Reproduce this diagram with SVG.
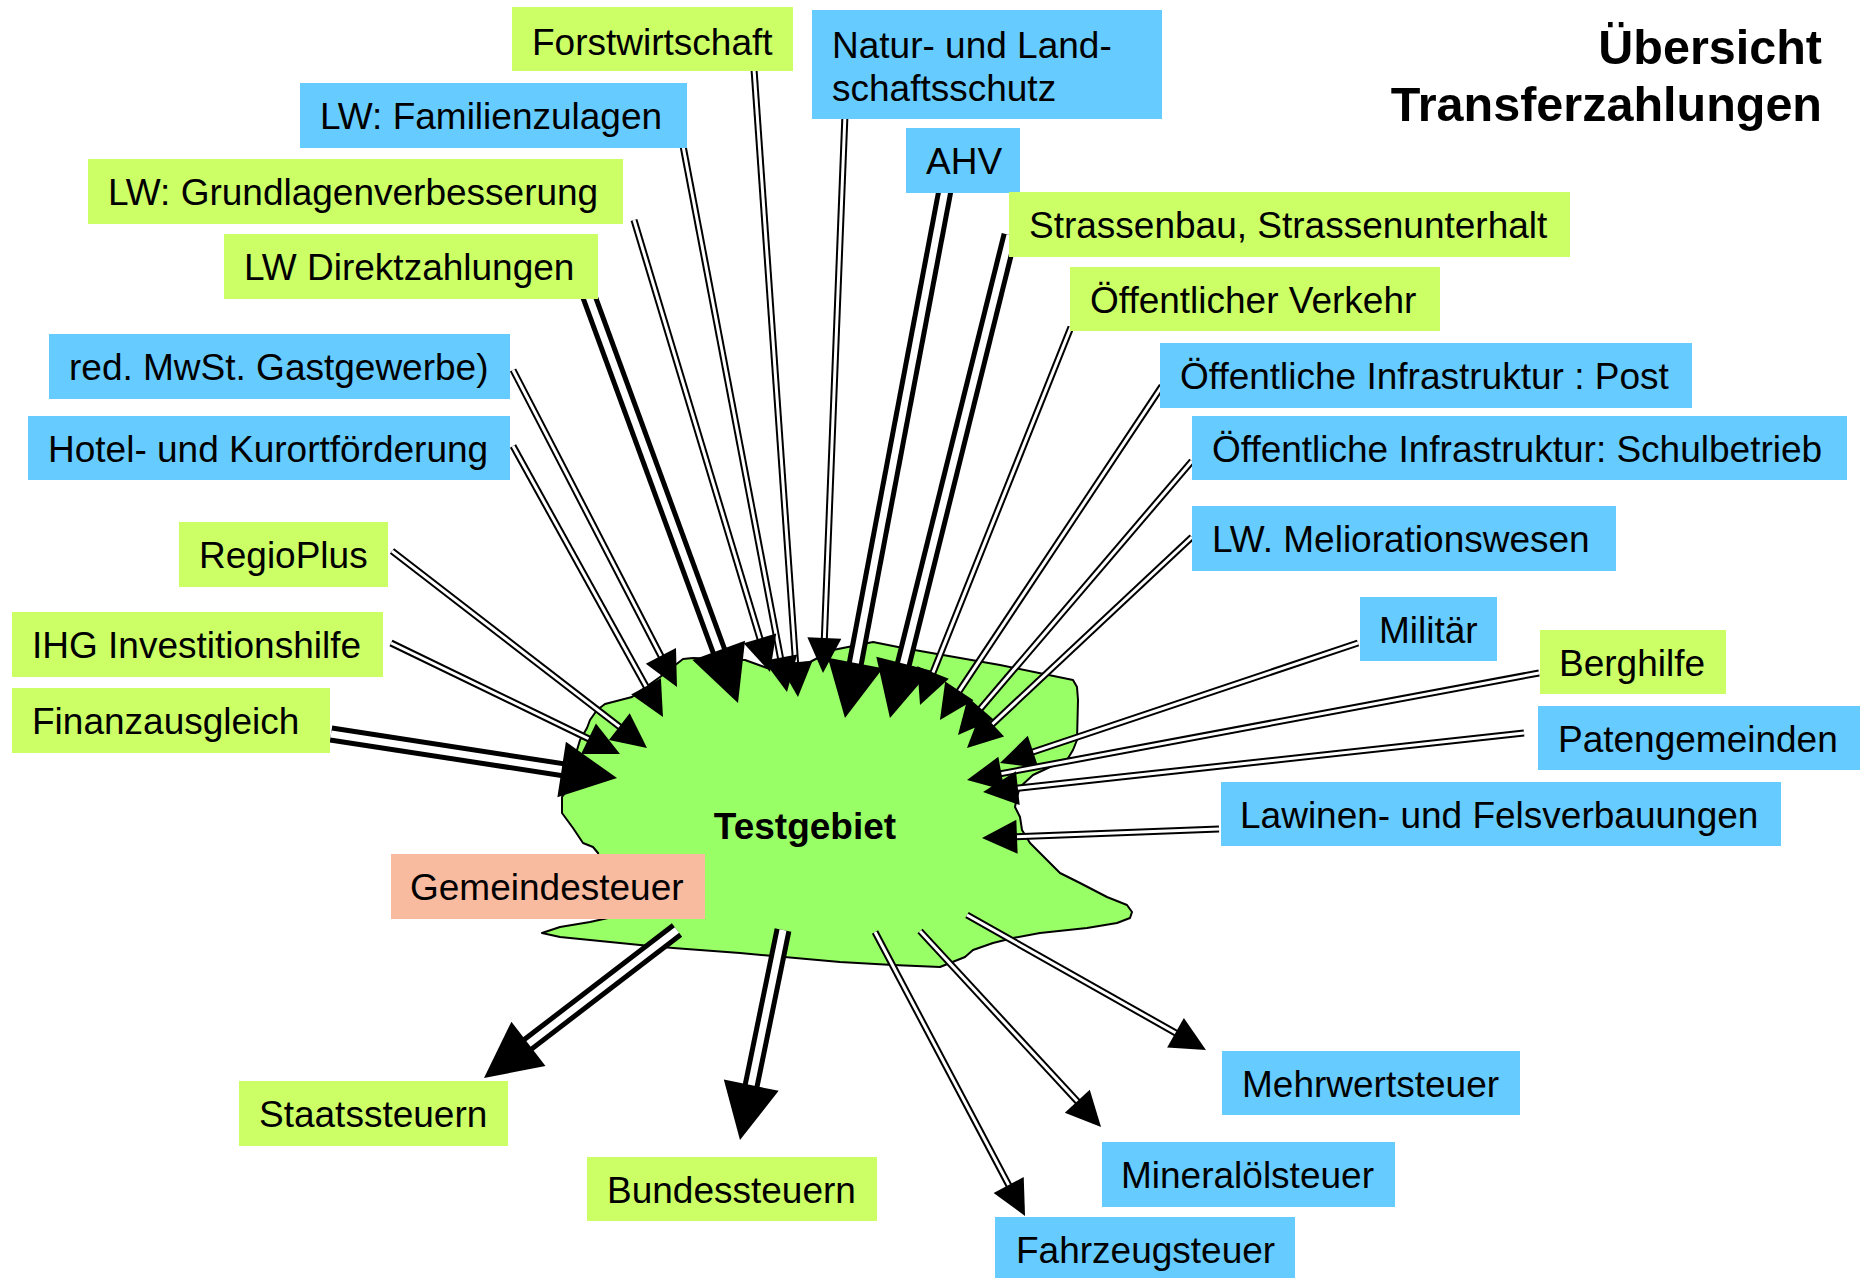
<svg xmlns="http://www.w3.org/2000/svg" width="1861" height="1278" viewBox="0 0 1861 1278">
<style>
text{font-family:"Liberation Sans",Arial,sans-serif;font-size:37px;fill:#000}
.g{fill:#ccff66}.b{fill:#66ccff}.s{fill:#f9bba0}
.o{fill:none;stroke:#000;stroke-width:7}
.i{fill:none;stroke:#fff;stroke-width:3}
.ob{fill:none;stroke:#000;stroke-width:17}
.ib{fill:none;stroke:#fff;stroke-width:7}
.h{fill:none;stroke:none;marker-end:url(#ah)}
.hb{fill:none;stroke:none;marker-end:url(#ahb)}
.title{font-weight:bold;font-size:48.5px;text-anchor:end}
</style>
<defs>
<marker id="ah" markerUnits="userSpaceOnUse" markerWidth="35" markerHeight="34" refX="27" refY="17" orient="auto" overflow="visible"><path d="M0,0 L35,17 L0,34 Z" fill="#000"/></marker>
<marker id="ahb" markerUnits="userSpaceOnUse" markerWidth="56" markerHeight="56" refX="38" refY="28" orient="auto" overflow="visible"><path d="M0,0 L56,28 L0,56 Z" fill="#000"/></marker>
</defs>
<rect width="1861" height="1278" fill="#fff"/>
<g id="testgebiet">
<path d="M683,659 L660,677 L632,697 L605,704 L597,710 L590,720 L587,728 L580,740 L577,750 L572,767 L565,793 L562,797 L562,813 L573,828 L583,843 L593,847 L598,853 L608,918 L590,922 L560,927 L542,933 L560,937 L590,940 L640,945 L673,948 L740,953 L840,962 L893,965 L940,967 L965,957 L973,950 L993,943 L1013,938 L1040,933 L1087,928 L1117,923 L1130,918 L1132,912 L1127,905 L1107,897 L1080,883 L1060,873 L1047,860 L1030,843 L1022,830 L1020,817 L1015,807 L1017,797 L1020,787 L1033,775 L1050,767 L1067,760 L1073,750 L1077,740 L1078,700 L1077,687 L1073,680 L1000,665 L943,655 L903,648 L873,642 L833,650 L810,662 L767,668 L745,660 L693,658 Z" fill="#99ff66" stroke="#000" stroke-width="2" stroke-linejoin="round"/>
<text x="805" y="839" text-anchor="middle" font-weight="bold">Testgebiet</text>
</g>
<g id="connectors">
<g><path class="o" d="M754,69 L797.4,689"/><path class="i" d="M754,69 L797.4,689"/><path class="h" d="M754,69 L797.4,689"/></g>
<g><path class="o" d="M680,130 L785.5,684.1"/><path class="i" d="M680,130 L785.5,684.1"/><path class="h" d="M680,130 L785.5,684.1"/></g>
<g><path class="o" d="M634,220 L767.7,664.3"/><path class="i" d="M634,220 L767.7,664.3"/><path class="h" d="M634,220 L767.7,664.3"/></g>
<g><path class="o" d="M845,114 L823.3,665"/><path class="i" d="M845,114 L823.3,665"/><path class="h" d="M845,114 L823.3,665"/></g>
<g><path class="o" d="M1071,327 L923,697.6"/><path class="i" d="M1071,327 L923,697.6"/><path class="h" d="M1071,327 L923,697.6"/></g>
<g><path class="o" d="M1162,386 L944.4,713.3"/><path class="i" d="M1162,386 L944.4,713.3"/><path class="h" d="M1162,386 L944.4,713.3"/></g>
<g><path class="o" d="M1192,461 L963.2,728.9"/><path class="i" d="M1192,461 L963.2,728.9"/><path class="h" d="M1192,461 L963.2,728.9"/></g>
<g><path class="o" d="M1192,537 L972.8,742.5"/><path class="i" d="M1192,537 L972.8,742.5"/><path class="h" d="M1192,537 L972.8,742.5"/></g>
<g><path class="o" d="M1358,643 L1007.6,760.5"/><path class="i" d="M1358,643 L1007.6,760.5"/><path class="h" d="M1358,643 L1007.6,760.5"/></g>
<g><path class="o" d="M1539,673 L974.9,778.5"/><path class="i" d="M1539,673 L974.9,778.5"/><path class="h" d="M1539,673 L974.9,778.5"/></g>
<g><path class="o" d="M1524,733 L991,791.1"/><path class="i" d="M1524,733 L991,791.1"/><path class="h" d="M1524,733 L991,791.1"/></g>
<g><path class="o" d="M1219,829 L990,837.7"/><path class="i" d="M1219,829 L990,837.7"/><path class="h" d="M1219,829 L990,837.7"/></g>
<g><path class="o" d="M391,643 L612.8,750.5"/><path class="i" d="M391,643 L612.8,750.5"/><path class="h" d="M391,643 L612.8,750.5"/></g>
<g><path class="o" d="M392,551 L640.7,743.1"/><path class="i" d="M392,551 L640.7,743.1"/><path class="h" d="M392,551 L640.7,743.1"/></g>
<g><path class="o" d="M513,446 L659.1,710"/><path class="i" d="M513,446 L659.1,710"/><path class="h" d="M513,446 L659.1,710"/></g>
<g><path class="o" d="M513,370 L673.3,679.9"/><path class="i" d="M513,370 L673.3,679.9"/><path class="h" d="M513,370 L673.3,679.9"/></g>
<g><path class="ob" d="M945,190 L848.3,700.3"/><path class="ib" d="M945,190 L848.3,700.3"/><path class="hb" d="M945,190 L848.3,700.3"/></g>
<g><path class="ob" d="M1010,235 L894.3,700.5"/><path class="ib" d="M1010,235 L894.3,700.5"/><path class="hb" d="M1010,235 L894.3,700.5"/></g>
<g><path class="ob" d="M588,294 L731.8,686.1"/><path class="ib" d="M588,294 L731.8,686.1"/><path class="hb" d="M588,294 L731.8,686.1"/></g>
<g><path class="ob" d="M331,734 L599.2,775.3"/><path class="ib" d="M331,734 L599.2,775.3"/><path class="hb" d="M331,734 L599.2,775.3"/></g>
<g><path class="ob" d="M677,930 L498.3,1067"/><path class="ib" d="M677,930 L498.3,1067"/><path class="hb" d="M677,930 L498.3,1067"/></g>
<g><path class="ob" d="M783,930 L743.6,1122.4"/><path class="ib" d="M783,930 L743.6,1122.4"/><path class="hb" d="M783,930 L743.6,1122.4"/></g>
<g><path class="o" d="M875,932 L1021.3,1208.9"/><path class="i" d="M875,932 L1021.3,1208.9"/><path class="h" d="M875,932 L1021.3,1208.9"/></g>
<g><path class="o" d="M920,931 L1095.6,1121.1"/><path class="i" d="M920,931 L1095.6,1121.1"/><path class="h" d="M920,931 L1095.6,1121.1"/></g>
<g><path class="o" d="M967,915 L1199,1046.1"/><path class="i" d="M967,915 L1199,1046.1"/><path class="h" d="M967,915 L1199,1046.1"/></g>
</g>
<g id="forstwirtschaft"><rect class="g" x="512" y="7" width="281" height="64"/><text x="532" y="55">Forstwirtschaft</text></g>
<g id="natur"><rect class="b" x="812" y="10" width="350" height="109"/><text x="832" y="58">Natur- und Land-</text><text x="832" y="101">schaftsschutz</text></g>
<g id="familienzulagen"><rect class="b" x="300" y="83" width="387" height="65"/><text x="320" y="129">LW: Familienzulagen</text></g>
<g id="ahv"><rect class="b" x="906" y="128" width="114" height="65"/><text x="926" y="174">AHV</text></g>
<g id="grundlagen"><rect class="g" x="88" y="159" width="535" height="65"/><text x="108" y="205">LW: Grundlagenverbesserung</text></g>
<g id="strassenbau"><rect class="g" x="1009" y="192" width="561" height="65"/><text x="1029" y="238">Strassenbau, Strassenunterhalt</text></g>
<g id="direktzahlungen"><rect class="g" x="224" y="234" width="374" height="65"/><text x="244" y="280">LW Direktzahlungen</text></g>
<g id="verkehr"><rect class="g" x="1070" y="267" width="370" height="64"/><text x="1090" y="313">Öffentlicher Verkehr</text></g>
<g id="mwst"><rect class="b" x="49" y="334" width="461" height="65"/><text x="69" y="380">red. MwSt. Gastgewerbe)</text></g>
<g id="post"><rect class="b" x="1160" y="343" width="532" height="65"/><text x="1180" y="389">Öffentliche Infrastruktur : Post</text></g>
<g id="hotel"><rect class="b" x="28" y="416" width="482" height="64"/><text x="48" y="462">Hotel- und Kurortförderung</text></g>
<g id="schulbetrieb"><rect class="b" x="1192" y="416" width="655" height="64"/><text x="1212" y="462">Öffentliche Infrastruktur: Schulbetrieb</text></g>
<g id="melioration"><rect class="b" x="1192" y="506" width="424" height="65"/><text x="1212" y="552">LW. Meliorationswesen</text></g>
<g id="regioplus"><rect class="g" x="179" y="522" width="209" height="65"/><text x="199" y="568">RegioPlus</text></g>
<g id="militaer"><rect class="b" x="1360" y="597" width="137" height="64"/><text x="1379" y="643">Militär</text></g>
<g id="ihg"><rect class="g" x="12" y="612" width="371" height="65"/><text x="32" y="658">IHG Investitionshilfe</text></g>
<g id="berghilfe"><rect class="g" x="1540" y="630" width="186" height="64"/><text x="1559" y="676">Berghilfe</text></g>
<g id="finanzausgleich"><rect class="g" x="12" y="688" width="318" height="65"/><text x="32" y="734">Finanzausgleich</text></g>
<g id="patengemeinden"><rect class="b" x="1538" y="706" width="322" height="64"/><text x="1558" y="752">Patengemeinden</text></g>
<g id="lawinen"><rect class="b" x="1221" y="782" width="560" height="64"/><text x="1240" y="828">Lawinen- und Felsverbauungen</text></g>
<g id="gemeindesteuer"><rect class="s" x="391" y="854" width="314" height="65"/><text x="410" y="900">Gemeindesteuer</text></g>
<g id="mehrwertsteuer"><rect class="b" x="1222" y="1051" width="298" height="64"/><text x="1242" y="1097">Mehrwertsteuer</text></g>
<g id="staatssteuern"><rect class="g" x="239" y="1081" width="269" height="65"/><text x="259" y="1127">Staatssteuern</text></g>
<g id="mineraloelsteuer"><rect class="b" x="1102" y="1142" width="293" height="65"/><text x="1121" y="1188">Mineralölsteuer</text></g>
<g id="bundessteuern"><rect class="g" x="587" y="1157" width="290" height="64"/><text x="607" y="1203">Bundessteuern</text></g>
<g id="fahrzeugsteuer"><rect class="b" x="995" y="1217" width="300" height="65"/><text x="1016" y="1263">Fahrzeugsteuer</text></g>
<g id="titel"><text class="title" x="1822" y="64">Übersicht</text><text class="title" x="1822" y="121">Transferzahlungen</text></g>
</svg>
